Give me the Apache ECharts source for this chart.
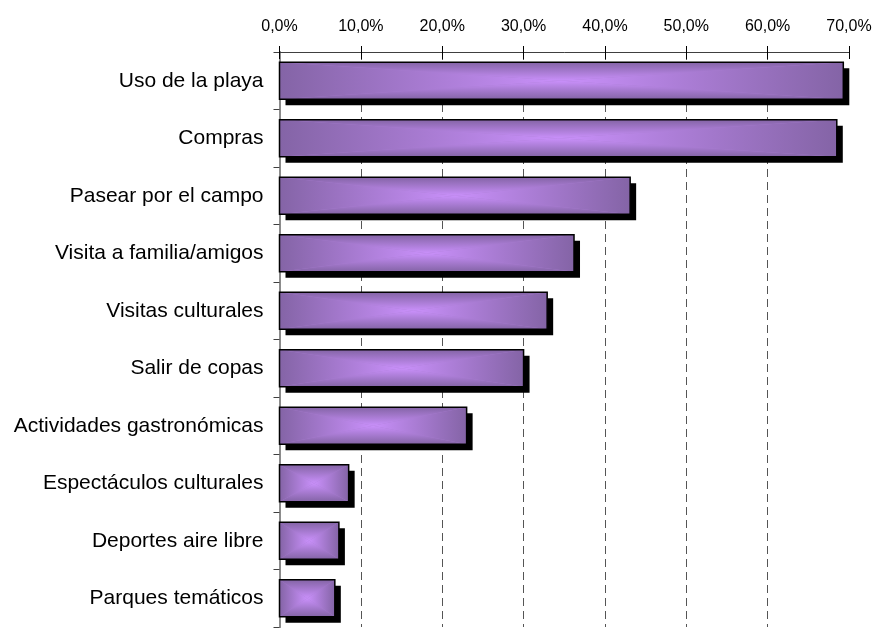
<!DOCTYPE html>
<html>
<head>
<meta charset="utf-8">
<script src="https://cdn.jsdelivr.net/npm/echarts@6/dist/echarts.min.js"></script>
<style>
  html, body { margin: 0; padding: 0; background: #fff; }
  #chart { width: 876px; height: 628px; }
</style>
</head>
<body>
<div id="chart"></div>
<script>
const categories = [
  "Uso de la playa", "Compras", "Pasear por el campo", "Visita a familia/amigos",
  "Visitas culturales", "Salir de copas", "Actividades gastronómicas",
  "Espectáculos culturales", "Deportes aire libre", "Parques temáticos"
];
const values = [69.3, 68.5, 43.1, 36.2, 32.9, 30.0, 23.0, 8.5, 7.3, 6.8];

const DARK = "#8464a6";
const LIGHT = "#c990fa";

function stops() {
  return [{ offset: 0, color: DARK }, { offset: 1, color: LIGHT }];
}

// "from center" fill: four triangles, each shaded from its edge to the centre
function renderBar(params, api) {
  const idx = api.value(0);
  const v = api.value(1);
  const p0 = api.coord([0, idx]);
  const p1 = api.coord([v, idx]);
  const band = api.size([0, 1])[1];
  const h = band * 0.64;
  const x0 = p0[0], x1 = p1[0];
  const y0 = p0[1] - h / 2, y1 = p0[1] + h / 2;
  const cx = (x0 + x1) / 2, cy = (y0 + y1) / 2;
  const G = echarts.graphic.LinearGradient;
  return {
    type: "group",
    children: [
      { type: "rect", shape: { x: x0 + 6, y: y0 + 6, width: x1 - x0, height: h }, style: { fill: "#000" } },
      { type: "rect", shape: { x: x0, y: y0, width: x1 - x0, height: h }, style: { fill: "#a87cd0" } },
      { type: "polygon", shape: { points: [[x0, y0], [cx, cy], [x0, y1]] },
        style: { fill: new G(x0, 0, cx, 0, stops(), true), stroke: null } },
      { type: "polygon", shape: { points: [[x1, y0], [cx, cy], [x1, y1]] },
        style: { fill: new G(x1, 0, cx, 0, stops(), true), stroke: null } },
      { type: "polygon", shape: { points: [[x0, y0], [x1, y0], [cx, cy]] },
        style: { fill: new G(0, y0, 0, cy, stops(), true), stroke: null } },
      { type: "polygon", shape: { points: [[x0, y1], [x1, y1], [cx, cy]] },
        style: { fill: new G(0, y1, 0, cy, stops(), true), stroke: null } },
      { type: "rect", shape: { x: x0, y: y0, width: x1 - x0, height: h },
        style: { fill: null, stroke: "#000", lineWidth: 1.5 } }
    ]
  };
}

const chart = echarts.init(document.getElementById("chart"));
const fmt = v => v.toFixed(1).replace(".", ",") + "%";

chart.setOption({
  animation: false,
  grid: { left: 279.5, right: 27, top: 52, bottom: 1 },
  xAxis: [
    {
      type: "value", position: "top", min: 0, max: 70, interval: 10,
      axisLine: { show: true, lineStyle: { color: "#404040", width: 1 } },
      axisTick: { show: true, length: 6, lineStyle: { color: "#000" } },
      axisLabel: { formatter: fmt, fontFamily: "Liberation Sans, Arial, sans-serif",
        fontSize: 16, color: "#000", margin: 17 },
      splitLine: { show: true, showMinLine: false, showMaxLine: false,
        lineStyle: { color: "#555", type: [8, 5], width: 1 } }
    },
    {
      type: "value", position: "top", min: 0, max: 70, interval: 10,
      axisLine: { show: false },
      axisTick: { show: true, inside: true, length: 7, lineStyle: { color: "#000" } },
      axisLabel: { show: false },
      splitLine: { show: false }
    }
  ],
  yAxis: [
    {
      type: "category", data: categories, inverse: true,
      axisLine: { show: true, lineStyle: { color: "#404040", width: 1.5 } },
      axisTick: { show: true, length: 6, lineStyle: { color: "#404040" } },
      axisLabel: { fontFamily: "Liberation Sans, Arial, sans-serif", fontSize: 21,
        color: "#000", margin: 16 }
    },
    {
      type: "category", data: categories, inverse: true, position: "right",
      axisLine: { show: true, lineStyle: { color: "#8c8c8c", width: 2 } },
      axisTick: { show: false },
      axisLabel: { show: false }
    }
  ],
  series: [
    {
      type: "custom",
      renderItem: renderBar,
      encode: { x: 1, y: 0 },
      data: values.map((v, i) => [i, v]),
      z: 5
    }
  ]
});
</script>
</body>
</html>
